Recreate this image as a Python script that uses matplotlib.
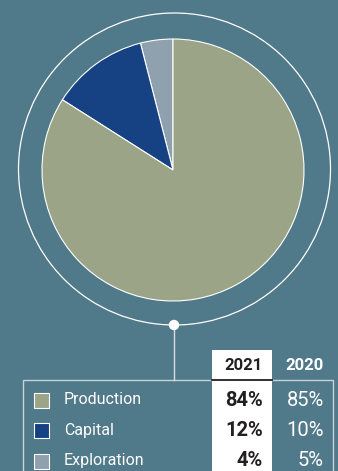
import matplotlib.pyplot as plt
from matplotlib.patches import Circle, Rectangle
from matplotlib.lines import Line2D

# data
categories = ['Exploration', 'Capital', 'Production']
share_2021 = [4, 12, 84]
share_2020 = [5, 10, 85]
colors = ['#8FA0AF', '#164283', '#9BA487']
row_order = ['Production', 'Capital', 'Exploration']

BG = '#50798A'
DARK = '#231F20'
W, H = 338, 471

plt.rcParams['font.family'] = ['Roboto', 'DejaVu Sans']

fig = plt.figure(figsize=(W / 100, H / 100), dpi=100, facecolor=BG)
ax = fig.add_axes([0, 0, 1, 1])
ax.set_xlim(0, W)
ax.set_ylim(0, H)
ax.set_aspect('equal')
ax.axis('off')

def py(y):
    # pixel row (top down) -> data y
    return H - y

# pie
ax.pie(share_2021, colors=colors, startangle=90, counterclock=True,
       center=(173, py(170)), radius=131,
       wedgeprops=dict(edgecolor='white', linewidth=0.8))
ax.set_xlim(0, W)
ax.set_ylim(0, H)
ax.add_patch(Circle((174.5, py(169)), 156, fill=False, ec='white', lw=0.9))

# connector
ax.add_line(Line2D([174, 174], [py(325), py(380)], color='#D8DEE2', lw=1))
ax.add_patch(Circle((174, py(325)), 4.5, color='white', zorder=5))

# table frame and highlighted column
ax.add_patch(Rectangle((23, -5), 333 - 23, py(380) + 5, fill=False,
                       ec='#C8D2D8', lw=1))
ax.add_patch(Rectangle((212, -5), 60, py(350) + 5, fc='white', ec='none', zorder=3))
ax.add_line(Line2D([212, 272], [py(380), py(380)], color=DARK, lw=1.3, zorder=4))

ax.text(263, py(366), '2021', ha='right', va='center', fontsize=12,
        fontweight='bold', color=DARK, zorder=5)
ax.text(324, py(366), '2020', ha='right', va='center', fontsize=12,
        fontweight='bold', color='white', zorder=5)

row_y = [400, 430, 461]
for name, yy in zip(row_order, row_y):
    i = categories.index(name)
    ax.add_patch(Rectangle((34, py(yy + 8)), 15, 15, fc=colors[i], ec='white', lw=0.8))
    ax.text(64, py(yy), name, ha='left', va='center', fontsize=11.5, color='white')
    ax.text(263, py(yy), f'{share_2021[i]}%', ha='right', va='center', fontsize=14.5,
            fontweight='bold', color=DARK, zorder=5)
    ax.text(324, py(yy), f'{share_2020[i]}%', ha='right', va='center', fontsize=14.5,
            color='white', zorder=5)

fig.savefig('out.png', dpi=100, facecolor=BG)
